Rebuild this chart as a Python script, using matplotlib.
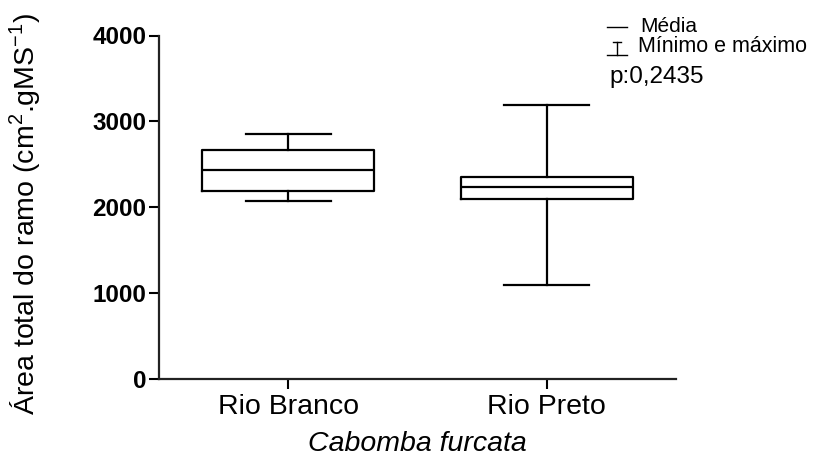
import matplotlib
matplotlib.use("Agg")
import matplotlib.pyplot as plt
from matplotlib.lines import Line2D

plt.rcParams['font.family'] = ['Liberation Sans', 'DejaVu Sans']
plt.rcParams['mathtext.fontset'] = 'custom'
plt.rcParams['mathtext.rm'] = 'Liberation Sans'

categories = ["Rio Branco", "Rio Preto"]
minimum = [2068, 1094]
q1 = [2192, 2095]
center = [2433, 2235]
q3 = [2666, 2355]
maximum = [2848, 3193]
yticks = [0, 1000, 2000, 3000, 4000]

fig = plt.figure(figsize=(8.17, 4.59), dpi=100)
ax = fig.add_axes([159/817, 1-379/459, (676-159)/817, (379-35.5)/459])

stats = []
for i, c in enumerate(categories):
    stats.append(dict(label=c, whislo=minimum[i], q1=q1[i], med=center[i],
                      q3=q3[i], whishi=maximum[i], fliers=[]))
lw = 1.6
ax.bxp(stats, positions=range(len(categories)), widths=0.667, capwidths=0.33,
       showfliers=False,
       boxprops=dict(color='black', linewidth=lw),
       medianprops=dict(color='black', linewidth=lw),
       whiskerprops=dict(color='black', linewidth=lw),
       capprops=dict(color='black', linewidth=lw))

ax.set_xlim(-0.5, 1.5)
ax.set_ylim(0, 4000)
ax.set_yticks(yticks)
ax.set_yticklabels([str(t) for t in yticks], fontsize=17.5, fontweight='bold')
ax.set_xticks(range(len(categories)))
ax.set_xticklabels(categories, fontsize=20.5)
ax.tick_params(axis='y', length=7, width=1.5, pad=2)
ax.tick_params(axis='x', length=7, width=1.5, pad=4)
for s in ['top', 'right']:
    ax.spines[s].set_visible(False)
for s in ['left', 'bottom']:
    ax.spines[s].set_linewidth(1.6)
    ax.spines[s].set_color('#222222')

ax.set_xlabel("Cabomba furcata", fontsize=20.5, style='italic', labelpad=8)
ax.set_ylabel("Área total do ramo (cm$^{2}$.gMS$^{-1}$)", fontsize=20.5)
ax.yaxis.set_label_coords(-0.225, 0.48)

# legend-like annotation
W, H = 817, 459
fig.add_artist(Line2D([607/W, 627/W], [1-27/H, 1-27/H], color='black', lw=1))
fig.add_artist(Line2D([617/W, 617/W], [1-42/H, 1-55/H], color='black', lw=1))
fig.add_artist(Line2D([613/W, 621/W], [1-42/H, 1-42/H], color='black', lw=1))
fig.add_artist(Line2D([607/W, 627/W], [1-55/H, 1-55/H], color='black', lw=1))
fig.text(640/W, 1-27/H, "Média", fontsize=15, va='center', ha='left')
fig.text(638/W, 1-46/H, "Mínimo e máximo", fontsize=15.5, va='center', ha='left')
fig.text(609/W, 1-77/H, "p:0,2435", fontsize=17.5, va='center', ha='left')

fig.savefig("out.png", dpi=100)
